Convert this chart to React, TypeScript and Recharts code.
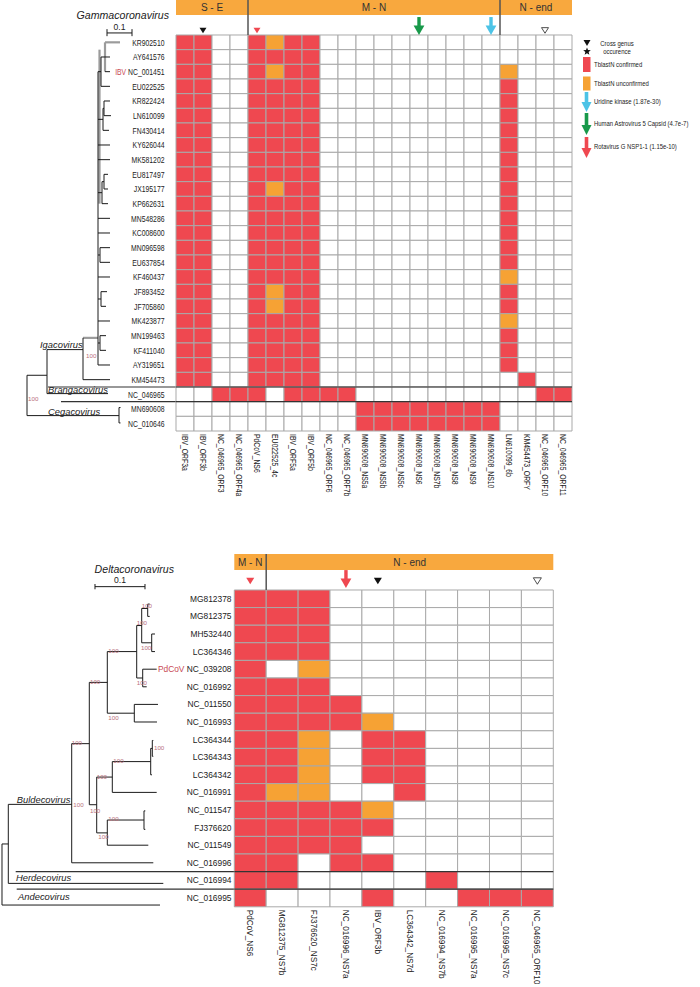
import React from 'react';
import { ComposedChart, XAxis, YAxis, ReferenceArea, ReferenceLine, Scatter } from 'recharts';

const FONT = '"Liberation Sans", Arial, Helvetica, sans-serif';
const RED = '#ef4850';
const ORANGE = '#f6a234';
const HEADER = '#f8a83e';
const GRID = '#a9a9a9';
const NAME_RED = '#c84a55';
const BOOT = '#b9707c';
const TREE = '#1a1a1a';
const TREE_GRAY = '#9b9b9b';
const GREEN = '#18994a';
const BLUE = '#4cc3e6';

type Seg = [number, number, number, number];

// ================= Gammacoronavirus panel data =================
const gammaRows = ['KR902510', 'AY641576', 'NC_001451', 'EU022525', 'KR822424', 'LN610099', 'FN430414', 'KY626044', 'MK581202', 'EU817497', 'JX195177', 'KP662631', 'MN548286', 'KC008600', 'MN096598', 'EU637854', 'KF460437', 'JF893452', 'JF705860', 'MK423877', 'MN199463', 'KF411040', 'AY319651', 'KM454473', 'NC_046965', 'MN690608', 'NC_010646'];
const gammaPrefix: Record<string, string> = { NC_001451: 'IBV' };
const gammaCols = ['IBV_ORF3a', 'IBV_ORF3b', 'NC_046965_ORF3', 'NC_046965_ORF4a', 'PdCoV_NS6', 'EU022525_4c', 'IBV_ORF5a', 'IBV_ORF5b', 'NC_046965_ORF6', 'NC_046965_ORF7b', 'MN690608_NS5a', 'MN690608_NS5b', 'MN690608_NS5c', 'MN690608_NS6', 'MN690608_NS7b', 'MN690608_NS8', 'MN690608_NS9', 'MN690608_NS10', 'LN610099_6b', 'KM454473_ORFY', 'NC_046965_ORF10', 'NC_046965_ORF11'];
const gammaSections = [
  { label: 'S - E', from: 0, to: 4 },
  { label: 'M - N', from: 4, to: 18 },
  { label: 'N - end', from: 18, to: 22 },
];
// 0 = none, 1 = TblastN confirmed, 2 = TblastN unconfirmed
const gammaValues = [
  [1, 1, 0, 0, 1, 2, 1, 1, 0, 0, 0, 0, 0, 0, 0, 0, 0, 0, 0, 0, 0, 0],
  [1, 1, 0, 0, 1, 1, 1, 1, 0, 0, 0, 0, 0, 0, 0, 0, 0, 0, 0, 0, 0, 0],
  [1, 1, 0, 0, 1, 2, 1, 1, 0, 0, 0, 0, 0, 0, 0, 0, 0, 0, 2, 0, 0, 0],
  [1, 1, 0, 0, 1, 1, 1, 1, 0, 0, 0, 0, 0, 0, 0, 0, 0, 0, 1, 0, 0, 0],
  [1, 1, 0, 0, 1, 1, 1, 1, 0, 0, 0, 0, 0, 0, 0, 0, 0, 0, 1, 0, 0, 0],
  [1, 1, 0, 0, 1, 1, 1, 1, 0, 0, 0, 0, 0, 0, 0, 0, 0, 0, 1, 0, 0, 0],
  [1, 1, 0, 0, 1, 1, 1, 1, 0, 0, 0, 0, 0, 0, 0, 0, 0, 0, 1, 0, 0, 0],
  [1, 1, 0, 0, 1, 1, 1, 1, 0, 0, 0, 0, 0, 0, 0, 0, 0, 0, 1, 0, 0, 0],
  [1, 1, 0, 0, 1, 1, 1, 1, 0, 0, 0, 0, 0, 0, 0, 0, 0, 0, 1, 0, 0, 0],
  [1, 1, 0, 0, 1, 1, 1, 1, 0, 0, 0, 0, 0, 0, 0, 0, 0, 0, 1, 0, 0, 0],
  [1, 1, 0, 0, 1, 2, 1, 1, 0, 0, 0, 0, 0, 0, 0, 0, 0, 0, 1, 0, 0, 0],
  [1, 1, 0, 0, 1, 1, 1, 1, 0, 0, 0, 0, 0, 0, 0, 0, 0, 0, 1, 0, 0, 0],
  [1, 1, 0, 0, 1, 1, 1, 1, 0, 0, 0, 0, 0, 0, 0, 0, 0, 0, 1, 0, 0, 0],
  [1, 1, 0, 0, 1, 1, 1, 1, 0, 0, 0, 0, 0, 0, 0, 0, 0, 0, 1, 0, 0, 0],
  [1, 1, 0, 0, 1, 1, 1, 1, 0, 0, 0, 0, 0, 0, 0, 0, 0, 0, 1, 0, 0, 0],
  [1, 1, 0, 0, 1, 1, 1, 1, 0, 0, 0, 0, 0, 0, 0, 0, 0, 0, 1, 0, 0, 0],
  [1, 1, 0, 0, 1, 1, 1, 1, 0, 0, 0, 0, 0, 0, 0, 0, 0, 0, 2, 0, 0, 0],
  [1, 1, 0, 0, 1, 2, 1, 1, 0, 0, 0, 0, 0, 0, 0, 0, 0, 0, 1, 0, 0, 0],
  [1, 1, 0, 0, 1, 2, 1, 1, 0, 0, 0, 0, 0, 0, 0, 0, 0, 0, 1, 0, 0, 0],
  [1, 1, 0, 0, 1, 1, 1, 1, 0, 0, 0, 0, 0, 0, 0, 0, 0, 0, 2, 0, 0, 0],
  [1, 1, 0, 0, 1, 1, 1, 1, 0, 0, 0, 0, 0, 0, 0, 0, 0, 0, 1, 0, 0, 0],
  [1, 1, 0, 0, 1, 1, 1, 1, 0, 0, 0, 0, 0, 0, 0, 0, 0, 0, 1, 0, 0, 0],
  [1, 1, 0, 0, 1, 1, 1, 1, 0, 0, 0, 0, 0, 0, 0, 0, 0, 0, 1, 0, 0, 0],
  [1, 1, 0, 0, 1, 1, 1, 1, 0, 0, 0, 0, 0, 0, 0, 0, 0, 0, 0, 1, 0, 0],
  [0, 0, 1, 1, 1, 0, 1, 1, 1, 1, 0, 0, 0, 0, 0, 0, 0, 0, 0, 0, 1, 1],
  [0, 0, 0, 0, 0, 0, 0, 0, 0, 0, 1, 1, 1, 1, 1, 1, 1, 1, 0, 0, 0, 0],
  [0, 0, 0, 0, 0, 0, 0, 0, 0, 0, 1, 1, 1, 1, 1, 1, 1, 1, 0, 0, 0, 0],
];
const gammaMarkers = [
  { col: 1, kind: 'tri' },
  { col: 4, kind: 'redTri' },
  { col: 13, kind: 'greenArrow' },
  { col: 17, kind: 'blueArrow' },
  { col: 20, kind: 'openTri' },
];
const gammaDividers = [24, 25];
// tree: branch length (x) vs row position (y)
const gammaTreeBlack: Seg[] = [
  [0.312, 1.5, 0.332, 1.5], [0.312, 2.5, 0.332, 2.5], [0.296, 1.5, 0.312, 1.5],
  [0.296, 3.5, 0.332, 3.5], [0.296, 1.5, 0.296, 3.5], [0.284, 2.5, 0.296, 2.5],
  [0.308, 4.5, 0.332, 4.5], [0.308, 5.5, 0.336, 5.5], [0.308, 4.5, 0.308, 5.5],
  [0.304, 5, 0.308, 5], [0.304, 6.5, 0.328, 6.5], [0.304, 5, 0.304, 6.5], [0.284, 5.75, 0.304, 5.75],
  [0.284, 7.5, 0.332, 7.5], [0.284, 8.5, 0.332, 8.5],
  [0.308, 9.5, 0.324, 9.5], [0.308, 10.5, 0.324, 10.5], [0.308, 9.5, 0.308, 10.5],
  [0.3, 10, 0.308, 10], [0.3, 11.5, 0.324, 11.5], [0.3, 10, 0.3, 11.5], [0.284, 10.75, 0.3, 10.75],
  [0.284, 12.5, 0.332, 12.5], [0.284, 13.5, 0.332, 13.5],
  [0.292, 14.5, 0.332, 14.5], [0.292, 15.5, 0.332, 15.5], [0.292, 14.5, 0.292, 15.5], [0.284, 15, 0.292, 15],
  [0.284, 16.5, 0.332, 16.5],
  [0.296, 17.5, 0.32, 17.5], [0.296, 18.5, 0.316, 18.5], [0.296, 17.5, 0.296, 18.5], [0.284, 18, 0.296, 18],
  [0.284, 19.5, 0.332, 19.5],
  [0.292, 20.5, 0.316, 20.5], [0.292, 21.5, 0.316, 21.5], [0.292, 20.5, 0.292, 21.5], [0.284, 21, 0.292, 21],
  [0.284, 22.5, 0.332, 22.5], [0.284, 2.5, 0.284, 22.5],
  [0.224, 23.5, 0.332, 23.5], [0.224, 20.65, 0.224, 23.5],
  [0.08, 21.45, 0.224, 21.45], [0.08, 21.45, 0.08, 24.45], [0.08, 24.45, 0.324, 24.45],
  [0, 23.2, 0.08, 23.2], [0, 23.2, 0, 25.95], [0, 25.95, 0.368, 25.95],
  [0.368, 25.4, 0.368, 26.45], [0.368, 25.4, 0.374, 25.4], [0.368, 26.45, 0.374, 26.45],
  [0.32, -0.14, 0.42, -0.14], [0.32, -0.4, 0.32, 0.08], [0.42, -0.4, 0.42, 0.08],
];
const gammaTreeGray: Seg[] = [
  [0.312, 0.5, 0.372, 0.5], [0.312, 0.5, 0.312, 2.5], [0.29, 1.0, 0.29, 11.5], [0.224, 20.65, 0.284, 20.65],
];
const gammaTreeRules: Seg[] = [
  [0.084, 24, 0.596, 24], [0.136, 25, 0.596, 25],
];
const gammaTreeLabels = [
  { x: 0.568, y: -1.06, text: 'Gammacoronavirus', kind: 'title' },
  { x: 0.37, y: -0.33, text: '0.1', kind: 'scale' },
  { x: 0.052, y: 21.35, text: 'Igacovirus', kind: 'genus' },
  { x: 0.084, y: 24.38, text: 'Brangacovirus', kind: 'genus' },
  { x: 0.084, y: 25.88, text: 'Cegacovirus', kind: 'genus' },
  { x: 0.236, y: 22.0, text: '100', kind: 'boot' },
  { x: 0.004, y: 24.95, text: '100', kind: 'boot' },
];

// ================= Deltacoronavirus panel data =================
const deltaRows = ['MG812378', 'MG812375', 'MH532440', 'LC364346', 'NC_039208', 'NC_016992', 'NC_011550', 'NC_016993', 'LC364344', 'LC364343', 'LC364342', 'NC_016991', 'NC_011547', 'FJ376620', 'NC_011549', 'NC_016996', 'NC_016994', 'NC_016995'];
const deltaPrefix: Record<string, string> = { NC_039208: 'PdCoV' };
const deltaCols = ['PdCoV_NS6', 'MG812375_NS7b', 'FJ376620_NS7c', 'NC_016996_NS7a', 'IBV_ORF3b', 'LC364342_NS7d', 'NC_016994_NS7b', 'NC_016995_NS7a', 'NC_016995_NS7c', 'NC_046965_ORF10'];
const deltaSections = [
  { label: 'M - N', from: 0, to: 1 },
  { label: 'N - end', from: 1, to: 10 },
];
const deltaValues = [
  [1, 1, 1, 0, 0, 0, 0, 0, 0, 0],
  [1, 1, 1, 0, 0, 0, 0, 0, 0, 0],
  [1, 1, 1, 0, 0, 0, 0, 0, 0, 0],
  [1, 1, 1, 0, 0, 0, 0, 0, 0, 0],
  [1, 0, 2, 0, 0, 0, 0, 0, 0, 0],
  [1, 1, 1, 0, 0, 0, 0, 0, 0, 0],
  [1, 1, 1, 1, 0, 0, 0, 0, 0, 0],
  [1, 1, 1, 1, 2, 0, 0, 0, 0, 0],
  [1, 1, 2, 0, 1, 1, 0, 0, 0, 0],
  [1, 1, 2, 0, 1, 1, 0, 0, 0, 0],
  [1, 1, 2, 0, 1, 1, 0, 0, 0, 0],
  [1, 2, 2, 0, 0, 1, 0, 0, 0, 0],
  [1, 1, 1, 1, 2, 0, 0, 0, 0, 0],
  [1, 1, 1, 1, 1, 0, 0, 0, 0, 0],
  [1, 1, 1, 1, 0, 0, 0, 0, 0, 0],
  [1, 1, 0, 1, 1, 0, 0, 0, 0, 0],
  [1, 1, 0, 0, 0, 0, 1, 0, 0, 0],
  [1, 0, 0, 0, 1, 0, 0, 1, 1, 1],
];
const deltaMarkers = [
  { col: 0, kind: 'redTri' },
  { col: 3, kind: 'redArrow' },
  { col: 4, kind: 'tri' },
  { col: 9, kind: 'openTri' },
];
const deltaDividers = [16, 17];
const deltaTreeBlack: Seg[] = [
  [0.2914, 0.8, 0.2914, 1.5], [0.2914, 0.8, 0.2954, 0.8], [0.2914, 1.5, 0.2954, 1.5], [0.2794, 1.05, 0.2914, 1.05],
  [0.2994, 2.5, 0.2994, 3.5], [0.2994, 2.5, 0.306, 2.5], [0.2994, 3.5, 0.306, 3.5], [0.2794, 3.0, 0.2994, 3.0],
  [0.2794, 1.05, 0.2794, 3.0], [0.2694, 2.02, 0.2794, 2.02],
  [0.2814, 4.5, 0.2814, 5.5], [0.2814, 4.5, 0.3094, 4.5], [0.2814, 5.5, 0.2894, 5.5], [0.2694, 5.0, 0.2814, 5.0],
  [0.2694, 2.02, 0.2694, 5.0], [0.2106, 3.5, 0.2694, 3.5],
  [0.2646, 6.5, 0.2646, 7.5], [0.2646, 6.5, 0.312, 6.5], [0.2646, 7.5, 0.31, 7.5], [0.2106, 7.0, 0.2646, 7.0],
  [0.2106, 3.5, 0.2106, 7.0], [0.1746, 5.25, 0.2106, 5.25],
  [0.3006, 8.55, 0.3006, 9.45], [0.3006, 8.55, 0.3026, 8.55], [0.3006, 9.45, 0.3026, 9.45],
  [0.2974, 9.0, 0.3006, 9.0], [0.2974, 9.0, 0.2974, 10.5], [0.2974, 10.5, 0.3, 10.5], [0.2206, 9.75, 0.2974, 9.75],
  [0.2206, 11.5, 0.3094, 11.5], [0.2206, 9.75, 0.2206, 11.5], [0.1894, 10.63, 0.2206, 10.63],
  [0.284, 12.55, 0.284, 13.6], [0.284, 12.55, 0.2866, 12.55], [0.284, 13.6, 0.2866, 13.6], [0.2106, 13.07, 0.284, 13.07],
  [0.2106, 14.5, 0.2926, 14.5], [0.2106, 13.07, 0.2106, 14.5], [0.1894, 13.8, 0.2106, 13.8],
  [0.1894, 10.63, 0.1894, 13.8], [0.1746, 12.2, 0.1894, 12.2],
  [0.1746, 5.25, 0.1746, 12.2], [0.1394, 8.73, 0.1746, 8.73],
  [0.1394, 15.5, 0.3026, 15.5], [0.1394, 8.73, 0.1394, 15.5],
  [0.0126, 12.18, 0.1394, 12.18],
  [0.0126, 16.67, 0.3226, 16.67], [0.0126, 12.18, 0.0126, 16.67],
  [0, 14.43, 0.0126, 14.43], [0, 14.43, 0, 17.9], [0, 17.9, 0.316, 17.9],
  [0.186, -0.19, 0.286, -0.19], [0.186, -0.34, 0.186, -0.04], [0.286, -0.34, 0.286, -0.04],
];
const deltaTreeGray: Seg[] = [];
const deltaTreeRules: Seg[] = [
  [0.0274, 16, 0.4646, 16], [0.0294, 17, 0.4646, 17],
];
const deltaTreeLabels = [
  { x: 0.344, y: -0.97, text: 'Deltacoronavirus', kind: 'title' },
  { x: 0.236, y: -0.4, text: '0.1', kind: 'scale' },
  { x: 0.0294, y: 12.1, text: 'Buldecovirus', kind: 'genus' },
  { x: 0.028, y: 16.55, text: 'Herdecovirus', kind: 'genus' },
  { x: 0.032, y: 17.6, text: 'Andecovirus', kind: 'genus' },
  { x: 0.2794, y: 1.02, text: '100', kind: 'boot' },
  { x: 0.2694, y: 2.0, text: '100', kind: 'boot' },
  { x: 0.278, y: 3.43, text: '100', kind: 'boot' },
  { x: 0.2126, y: 3.56, text: '100', kind: 'boot' },
  { x: 0.2694, y: 5.41, text: '100', kind: 'boot' },
  { x: 0.176, y: 5.32, text: '100', kind: 'boot' },
  { x: 0.2126, y: 7.4, text: '100', kind: 'boot' },
  { x: 0.1394, y: 8.82, text: '100', kind: 'boot' },
  { x: 0.304, y: 9.07, text: '100', kind: 'boot' },
  { x: 0.2226, y: 9.83, text: '100', kind: 'boot' },
  { x: 0.1894, y: 10.72, text: '100', kind: 'boot' },
  { x: 0.1426, y: 12.33, text: '100', kind: 'boot' },
  { x: 0.176, y: 12.65, text: '100', kind: 'boot' },
  { x: 0.2126, y: 13.13, text: '100', kind: 'boot' },
  { x: 0.1926, y: 14.16, text: '100', kind: 'boot' },
];

// ================= Legend =================
const legendLabels = ['TblastN confirmed', 'TblastN unconfirmed', 'Uridine kinase (1.87e-30)', 'Human Astrovirus 5 Capsid (4.7e-7)', 'Rotavirus G NSP1-1 (1.15e-10)'];
const legendCross = ['Cross genus', 'occurence'];

// ================= Layout =================
const YW = 60;
const gammaGeom = {
  top: 0, plotLeft: 176, plotRight: 572, plotHeight: 431, headerRows: 2.386, orangeRows: 1.023,
  axisHeight: 90, rowTickMargin: 11.5, rowSize: 9.5, rowScale: 0.72, colSize: 9.5, colScale: 0.72,
  treeDomain: [-0.108, 0.596], triRow: -0.31, arrowRow: -0.61, markerScale: 1, headerFont: 10,
};
const deltaGeom = {
  top: 554, plotLeft: 234.3, plotRight: 553.3, plotHeight: 352.8, headerRows: 2.045, orangeRows: 0.909,
  axisHeight: 77, rowTickMargin: 2.8, rowSize: 8.4, rowScale: 1, colSize: 8.2, colScale: 1,
  treeDomain: [-0.004, 0.4646], triRow: -0.51, arrowRow: -0.62, markerScale: 1.15, headerFont: 10,
};

const cellFill = (v: number) => (v === 1 ? RED : v === 2 ? ORANGE : '#ffffff');

function markerShape(scale: number) {
  return (p: any) => {
    const { cx, cy, payload } = p;
    const k = payload.kind;
    const s = scale;
    if (k === 'tri' || k === 'openTri' || k === 'redTri') {
      const w = 3.5 * s, h = 2.8 * s;
      const fill = k === 'tri' ? '#111' : k === 'redTri' ? RED : '#fff';
      return (
        <path d={`M${cx - w},${cy - h}L${cx + w},${cy - h}L${cx},${cy + h}Z`} fill={fill}
          stroke={k === 'openTri' ? '#222' : 'none'} strokeWidth={0.8} />
      );
    }
    const c = k === 'greenArrow' ? GREEN : k === 'blueArrow' ? BLUE : RED;
    return (
      <g>
        <rect x={cx - 1.7} y={cy - 9} width={3.4} height={9} fill={c} />
        <path d={`M${cx - 5.4},${cy - 0.5}L${cx + 5.4},${cy - 0.5}L${cx},${cy + 9}Z`} fill={c} />
      </g>
    );
  };
}

const labelStyles: Record<string, any> = {
  title: { size: 10.6, italic: true, anchor: 'end', color: '#222' },
  genus: { size: 9.4, italic: true, anchor: 'start', color: '#222' },
  boot: { size: 6.2, italic: false, anchor: 'start', color: BOOT },
  scale: { size: 8.6, italic: false, anchor: 'middle', color: '#222' },
};

const treeLabelShape = (p: any) => {
  const { cx, cy, payload } = p;
  const st = labelStyles[payload.kind];
  return (
    <text x={cx} y={cy} textAnchor={st.anchor} fontSize={st.size} fontStyle={st.italic ? 'italic' : 'normal'}
      fill={st.color} fontFamily={FONT}>{payload.text}</text>
  );
};

function Panel(props: any) {
  const { g, rows, cols, values, prefix, sections, markers, dividers, treeBlack, treeGray, treeRules, treeLabels } = props;
  const nRows = rows.length;
  const nCols = cols.length;
  const yDomain = [-g.headerRows, nRows];
  const rowTicks = rows.map((_: string, i: number) => i + 0.5);
  const colTicks = cols.map((_: string, i: number) => i + 0.5);
  const markerData = markers.map((m: any) => ({
    x: m.col + 0.5, y: m.kind.indexOf('Arrow') >= 0 ? g.arrowRow : g.triRow, kind: m.kind,
  }));

  const rowTick = (p: any) => {
    const name = rows[Math.floor(p.payload.value)];
    const pre = prefix[name];
    return (
      <g transform={`translate(${p.x},${p.y})`}>
        <text transform={`scale(${g.rowScale},1)`} textAnchor="end" dy="0.35em" fontSize={g.rowSize} fontFamily={FONT} fill="#222">
          {pre ? <tspan fill={NAME_RED}>{pre} </tspan> : null}
          {name}
        </text>
      </g>
    );
  };
  const colTick = (p: any) => {
    const name = cols[Math.floor(p.payload.value)];
    return (
      <g transform={`translate(${p.x},${p.y}) rotate(90)`}>
        <text transform={`scale(${g.colScale},1)`} textAnchor="start" dy="0.35em" fontSize={g.colSize} fontFamily={FONT} fill="#222">
          {name}
        </text>
      </g>
    );
  };

  const segLine = (s: Seg, key: string, stroke: string, w: number) => (
    <ReferenceLine key={key} segment={[{ x: s[0], y: s[1] }, { x: s[2], y: s[3] }]} stroke={stroke} strokeWidth={w} ifOverflow="visible" />
  );

  return (
    <div style={{ position: 'absolute', left: 0, top: g.top, width: 700 }}>
      <div style={{ position: 'absolute', left: 0, top: 0 }}>
        <ComposedChart width={g.plotLeft} height={g.plotHeight} margin={{ top: 0, right: 0, bottom: 0, left: 0 }}>
          <XAxis dataKey="x" type="number" domain={g.treeDomain} allowDataOverflow hide />
          <YAxis dataKey="y" type="number" domain={yDomain} reversed allowDataOverflow hide width={0} />
          {treeGray.map((s: Seg, i: number) => segLine(s, 'g' + i, TREE_GRAY, 2.2))}
          {treeBlack.map((s: Seg, i: number) => segLine(s, 'b' + i, TREE, 1))}
          {treeRules.map((s: Seg, i: number) => segLine(s, 'r' + i, '#333', 1.2))}
          <Scatter data={treeLabels} shape={treeLabelShape} isAnimationActive={false} />
        </ComposedChart>
      </div>
      <div style={{ position: 'absolute', left: 0, top: 0 }}>
        <ComposedChart width={700} height={g.plotHeight + g.axisHeight}
          margin={{ top: 0, right: 700 - g.plotRight, bottom: 0, left: g.plotLeft - YW }}>
          <XAxis dataKey="x" type="number" domain={[0, nCols]} ticks={colTicks} interval={0} allowDataOverflow
            tick={colTick} axisLine={false} tickLine={false} tickSize={0} tickMargin={3} height={g.axisHeight} />
          <YAxis dataKey="y" type="number" domain={yDomain} reversed ticks={rowTicks} interval={0} allowDataOverflow
            tick={rowTick} axisLine={false} tickLine={false} tickSize={0} tickMargin={g.rowTickMargin} width={YW} />
          {sections.map((s: any) => (
            <ReferenceArea key={s.label} x1={s.from} x2={s.to} y1={-g.headerRows} y2={-g.headerRows + g.orangeRows}
              fill={HEADER} fillOpacity={1} stroke="none" ifOverflow="visible"
              label={{ value: s.label, position: 'center', fill: '#333', fontSize: g.headerFont, fontFamily: FONT }} />
          ))}
          {values.map((row: number[], r: number) =>
            row.map((v: number, c: number) => (
              <ReferenceArea key={`c${r}-${c}`} x1={c} x2={c + 1} y1={r} y2={r + 1} fill={cellFill(v)} fillOpacity={1}
                stroke={GRID} strokeWidth={1} ifOverflow="visible" />
            ))
          )}
          {sections.slice(1).map((s: any) => (
            <ReferenceLine key={'sep' + s.label} segment={[{ x: s.from, y: -g.headerRows }, { x: s.from, y: 0 }]}
              stroke="#555" strokeWidth={1.5} ifOverflow="visible" />
          ))}
          {dividers.map((d: number) => (
            <ReferenceLine key={'d' + d} y={d} stroke="#333" strokeWidth={1.2} ifOverflow="visible" />
          ))}
          <Scatter data={markerData} shape={markerShape(g.markerScale)} isAnimationActive={false} />
        </ComposedChart>
      </div>
    </div>
  );
}

function LegendBox() {
  const t = (x: number, y: number, s: string, anchor: string = 'start') => (
    <text key={s} transform={`translate(${x},${y}) scale(0.85,1)`} fontSize={7} fontFamily={FONT} fill="#222" textAnchor={anchor}>{s}</text>
  );
  const star = (cx: number, cy: number, R: number, r: number) => {
    const pts: string[] = [];
    for (let i = 0; i < 10; i++) {
      const a = -Math.PI / 2 + (i * Math.PI) / 5;
      const rr = i % 2 === 0 ? R : r;
      pts.push(`${cx + rr * Math.cos(a)},${cy + rr * Math.sin(a)}`);
    }
    return <polygon points={pts.join(' ')} fill="#111" />;
  };
  const arrow = (cx: number, top: number, bottom: number, c: string) => (
    <g>
      <rect x={cx - 1.8} y={top} width={3.6} height={bottom - top - 9} fill={c} />
      <path d={`M${cx - 5},${bottom - 10}L${cx + 5},${bottom - 10}L${cx},${bottom}Z`} fill={c} />
    </g>
  );
  return (
    <svg width={700} height={170} style={{ position: 'absolute', left: 0, top: 0 }}>
      <path d="M583.5,40L590.5,40L587,46Z" fill="#111" />
      {star(587, 51.5, 4, 1.7)}
      {t(617, 46, legendCross[0], 'middle')}
      {t(617, 53.5, legendCross[1], 'middle')}
      <rect x={583} y={57} width={7.5} height={15} fill={RED} />
      {t(594, 66.5, legendLabels[0])}
      <rect x={583} y={76.5} width={7.5} height={14} fill={ORANGE} />
      {t(594, 85.5, legendLabels[1])}
      {arrow(586.5, 92, 112, BLUE)}
      {t(594, 104, legendLabels[2])}
      {arrow(586.5, 113, 135, GREEN)}
      {t(594, 125.5, legendLabels[3])}
      {arrow(586.5, 137, 158, RED)}
      {t(594, 148.5, legendLabels[4])}
    </svg>
  );
}

export default function App() {
  return (
    <div style={{ position: 'absolute', left: 0, top: 0, width: 700, height: 987, overflow: 'hidden', background: '#fff', fontFamily: FONT }}>
      <Panel g={gammaGeom} rows={gammaRows} cols={gammaCols} values={gammaValues} prefix={gammaPrefix}
        sections={gammaSections} markers={gammaMarkers} dividers={gammaDividers}
        treeBlack={gammaTreeBlack} treeGray={gammaTreeGray} treeRules={gammaTreeRules} treeLabels={gammaTreeLabels} />
      <Panel g={deltaGeom} rows={deltaRows} cols={deltaCols} values={deltaValues} prefix={deltaPrefix}
        sections={deltaSections} markers={deltaMarkers} dividers={deltaDividers}
        treeBlack={deltaTreeBlack} treeGray={deltaTreeGray} treeRules={deltaTreeRules} treeLabels={deltaTreeLabels} />
      <LegendBox />
    </div>
  );
}
